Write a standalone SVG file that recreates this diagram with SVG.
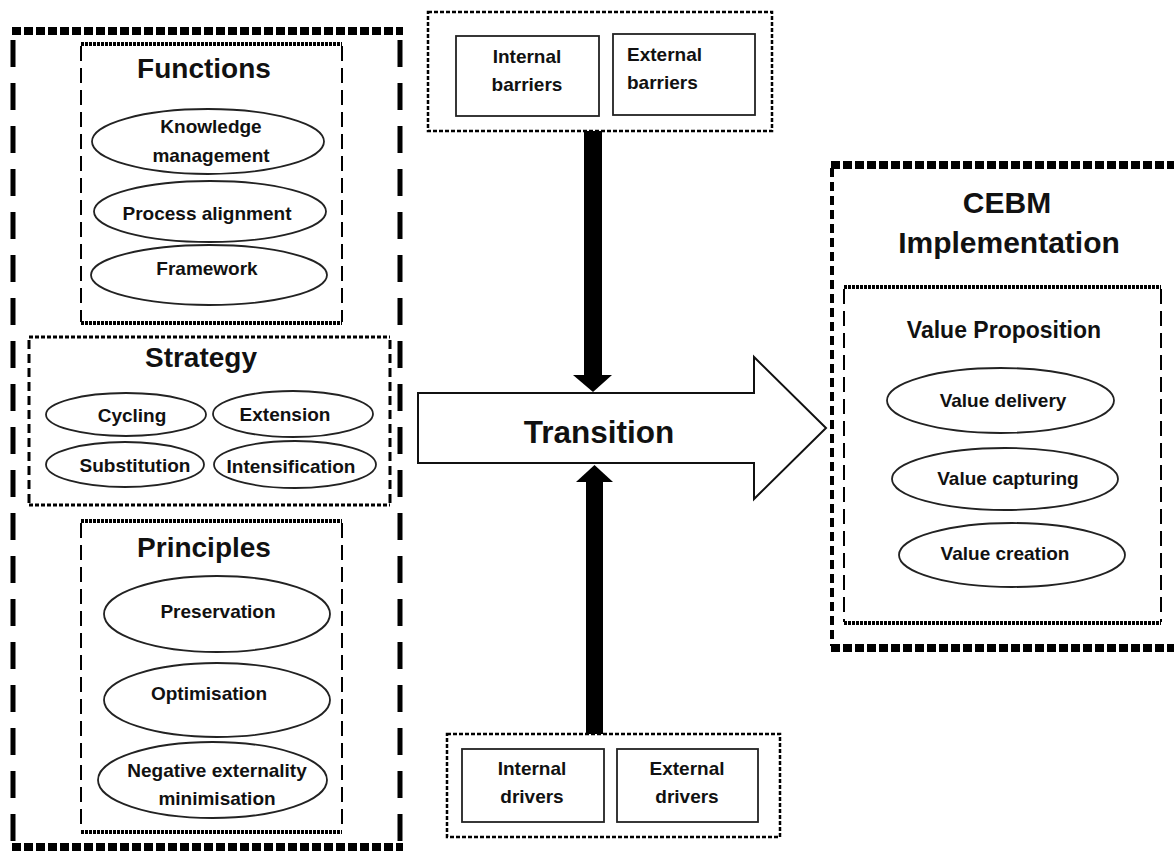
<svg xmlns="http://www.w3.org/2000/svg" width="1174" height="854" viewBox="0 0 1174 854">
<style>
text{font-family:"Liberation Sans",Arial,sans-serif;font-weight:bold;fill:#111;text-anchor:middle}
.t28{font-size:28px}.t30{font-size:30px}.t23{font-size:23px}.t19{font-size:19px}.t31{font-size:31.5px}
.ell{fill:#fff;stroke:#222;stroke-width:1.8}
.box{fill:#fff;stroke:#222;stroke-width:1.8}
.heavyH{stroke:#000;stroke-width:8;stroke-dasharray:9 3;fill:none}
.heavyV{stroke:#000;stroke-width:5;stroke-dasharray:27 16;fill:none}
.cebmV{stroke:#000;stroke-width:4;stroke-dasharray:9 5;fill:none}
.dotH{stroke:#000;stroke-width:4;stroke-dasharray:3 1;fill:none}
.thinV{stroke:#000;stroke-width:2;stroke-dasharray:15 7;fill:none}
.stratH{stroke:#000;stroke-width:3;stroke-dasharray:4 2;fill:none}
.stratV{stroke:#000;stroke-width:3;stroke-dasharray:9 5;fill:none}
.dotted{fill:#fff;stroke:#000;stroke-width:2.5;stroke-dasharray:4 2}
</style>
<rect width="1174" height="854" fill="#fff"/>

<g id="left-container">
<line class="heavyV" x1="13" y1="40" x2="13" y2="845"/>
<line class="heavyV" x1="400" y1="40" x2="400" y2="845"/>
<line class="heavyH" x1="12" y1="31" x2="403" y2="31"/>
<line class="heavyH" x1="12" y1="847" x2="403" y2="847"/>
</g>

<g id="functions">
<line class="thinV" x1="81" y1="46" x2="81" y2="322"/>
<line class="thinV" x1="342" y1="46" x2="342" y2="322"/>
<line class="dotH" x1="81" y1="44" x2="342" y2="44"/>
<line class="dotH" x1="81" y1="323" x2="342" y2="323"/>
<text class="t28" x="204" y="78">Functions</text>
<ellipse class="ell" cx="208" cy="141.5" rx="116" ry="32.5"/>
<text class="t19" x="211" y="133">Knowledge</text>
<text class="t19" x="211" y="162">management</text>
<ellipse class="ell" cx="210" cy="211.5" rx="116" ry="30.5"/>
<text class="t19" x="207" y="220">Process alignment</text>
<ellipse class="ell" cx="209" cy="275" rx="118" ry="30"/>
<text class="t19" x="207" y="275">Framework</text>
</g>

<g id="strategy">
<line class="stratV" x1="29" y1="340" x2="29" y2="504"/>
<line class="stratV" x1="390" y1="340" x2="390" y2="504"/>
<line class="stratH" x1="29" y1="337" x2="390" y2="337"/>
<line class="stratH" x1="29" y1="505" x2="390" y2="505"/>
<text class="t28" x="201" y="367">Strategy</text>
<ellipse class="ell" cx="126" cy="414.5" rx="80" ry="21.5"/>
<text class="t19" x="132" y="422">Cycling</text>
<ellipse class="ell" cx="293" cy="414" rx="80" ry="23"/>
<text class="t19" x="285" y="421">Extension</text>
<ellipse class="ell" cx="125" cy="464.5" rx="79" ry="22.5"/>
<text class="t19" x="135" y="472">Substitution</text>
<ellipse class="ell" cx="295" cy="464.5" rx="81" ry="23.5"/>
<text class="t19" x="291" y="473">Intensification</text>
</g>

<g id="principles">
<line class="thinV" x1="81" y1="523" x2="81" y2="831"/>
<line class="thinV" x1="342" y1="523" x2="342" y2="831"/>
<line class="dotH" x1="81" y1="521" x2="342" y2="521"/>
<line class="dotH" x1="81" y1="832" x2="342" y2="832"/>
<text class="t28" x="204" y="557">Principles</text>
<ellipse class="ell" cx="217" cy="614" rx="113" ry="38"/>
<text class="t19" x="218" y="618">Preservation</text>
<ellipse class="ell" cx="217" cy="700" rx="113" ry="37"/>
<text class="t19" x="209" y="700">Optimisation</text>
<ellipse class="ell" cx="212.5" cy="780" rx="114.5" ry="38"/>
<text class="t19" x="217" y="777">Negative externality</text>
<text class="t19" x="217" y="805">minimisation</text>
</g>

<g id="barriers">
<rect class="dotted" x="428" y="12" width="344" height="119"/>
<rect class="box" x="456" y="36" width="143" height="80"/>
<text class="t19" x="527" y="63">Internal</text>
<text class="t19" x="527" y="91">barriers</text>
<rect class="box" x="613" y="34" width="142" height="81"/>
<text class="t19" x="627" y="61" style="text-anchor:start">External</text>
<text class="t19" x="627" y="89" style="text-anchor:start">barriers</text>
</g>

<g id="drivers">
<rect class="dotted" x="447" y="734" width="333" height="103"/>
<rect class="box" x="462" y="749" width="142" height="73"/>
<text class="t19" x="532" y="775">Internal</text>
<text class="t19" x="532" y="803">drivers</text>
<rect class="box" x="617" y="749" width="141" height="73"/>
<text class="t19" x="687" y="775">External</text>
<text class="t19" x="687" y="803">drivers</text>
</g>

<g id="connectors">
<rect x="584" y="131" width="18" height="245" fill="#000"/>
<polygon points="573,375 612,375 593,392" fill="#000"/>
<rect x="586" y="481" width="17" height="253" fill="#000"/>
<polygon points="576,482 613,482 594.5,465" fill="#000"/>
</g>

<g id="transition">
<polygon points="418,393 754,393 754,357 826,428 754,499 754,463 418,463" fill="#fff" stroke="#111" stroke-width="2"/>
<text class="t31" x="599" y="443">Transition</text>
</g>

<g id="cebm">
<line class="cebmV" x1="832" y1="168" x2="832" y2="646"/>
<line class="cebmV" x1="1178" y1="168" x2="1178" y2="646"/>
<line class="heavyH" x1="831" y1="165" x2="1180" y2="165"/>
<line class="heavyH" x1="831" y1="648" x2="1180" y2="648"/>
<text class="t30" x="1007" y="213">CEBM</text>
<text class="t30" x="1009" y="253">Implementation</text>
</g>

<g id="value-proposition">
<line class="thinV" x1="844" y1="289" x2="844" y2="622"/>
<line class="thinV" x1="1161" y1="289" x2="1161" y2="622"/>
<line class="dotH" x1="844" y1="287" x2="1161" y2="287"/>
<line class="dotH" x1="844" y1="623" x2="1161" y2="623"/>
<text class="t23" x="1004" y="338">Value Proposition</text>
<ellipse class="ell" cx="1000.5" cy="400.5" rx="113.5" ry="32.5"/>
<text class="t19" x="1003" y="407">Value delivery</text>
<ellipse class="ell" cx="1005" cy="479" rx="113" ry="31"/>
<text class="t19" x="1008" y="485">Value capturing</text>
<ellipse class="ell" cx="1012" cy="555" rx="113" ry="32"/>
<text class="t19" x="1005" y="560">Value creation</text>
</g>
</svg>
